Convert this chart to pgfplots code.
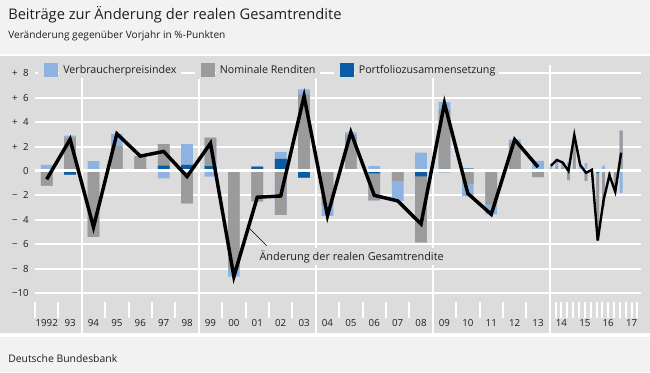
\documentclass[border=0pt]{standalone}
\usepackage{fontspec}
\setmainfont{Open Sans}
\usepackage{pgfplots}
\usepackage{pgfplotstable}
\pgfplotsset{compat=1.18}

\definecolor{outerbg}{HTML}{F2F2F2}
\definecolor{panelbg}{HTML}{DCDCDC}
\definecolor{cpiblue}{HTML}{8DB3E2}
\definecolor{nomgray}{HTML}{9B9B9B}
\definecolor{portblue}{HTML}{0A5CA6}
\definecolor{txt}{HTML}{1E1E1E}

% annual contributions (percentage points)
\pgfplotstableread{
x  cpi    nom    port   tot
0   0.50  -1.20   0.00  -0.68
1   0.20   2.70  -0.30   2.60
2   0.80  -5.40   0.00  -4.60
3   1.00   2.05   0.00   3.05
4   0.00   1.22   0.00   1.22
5  -0.60   1.75   0.45   1.60
6   1.70  -2.65   0.50  -0.45
7  -0.47   2.34   0.40   2.27
8  -0.65  -8.00   0.00  -8.65
9   0.00  -2.50   0.35  -2.15
10  0.55  -3.60   1.00  -2.05
11  0.40   6.28  -0.55   6.13
12 -0.87  -2.80   0.00  -3.67
13  0.22   2.95   0.00   3.17
14  0.40  -2.20  -0.20  -2.00
15 -1.65  -0.80   0.00  -2.45
16  1.50  -5.40  -0.45  -4.35
17  0.60   5.05  -0.10   5.55
18 -1.00  -1.05   0.20  -1.85
19 -0.80  -2.75   0.00  -3.55
20  0.22   2.35   0.00   2.57
21  0.82  -0.50   0.00   0.32
}\annual

% quarterly contributions 2014 Q1 - 2017 Q1
\pgfplotstableread{
x      cpi    nom    port   tot
21.55  0.40   0.05   0.00   0.43
21.80  0.50   0.40   0.00   0.90
22.05  0.40   0.30   0.00   0.70
22.30  0.70  -0.75   0.05   0.00
22.55  0.40   2.55   0.00   2.95
22.80  0.60  -0.10   0.00   0.50
23.05  0.65  -0.80   0.00  -0.15
23.30  0.10   0.00   0.00   0.10
23.55  0.00  -5.55  -0.15  -5.70
23.80  0.45  -2.85   0.00  -2.40
24.05  0.10  -0.45   0.00  -0.35
24.30 -0.20  -1.50   0.00  -1.70
24.55 -1.80   3.30   0.00   1.50
}\quarterly

\begin{document}
\begin{tikzpicture}[x=0.75pt,y=0.75pt]
% backgrounds
\fill[outerbg] (0,0) rectangle (650,372);
\fill[white] (0,315) rectangle (650,318);
\fill[panelbg] (0,39) rectangle (650,316);
\fill[white] (0,35.5) rectangle (650,39);
\node[anchor=base west, inner sep=0pt, text=txt, font=\fontsize{11}{13}\selectfont] at (8,352) {Beiträge zur Änderung der realen Gesamtrendite};
\node[anchor=base west, inner sep=0pt, text=txt, font=\fontsize{7.6}{9}\selectfont] at (8,333) {Veränderung gegenüber Vorjahr in \%-Punkten};
\node[anchor=base west, inner sep=0pt, text=txt, font=\fontsize{7.8}{9}\selectfont] at (8,10) {Deutsche Bundesbank};

\begin{axis}[
  at={(26.25pt,40.5pt)}, anchor=south west,
  scale only axis, width=454.5pt, height=189.86pt,
  xmin=-0.5, xmax=25.4, ymin=-12.05, ymax=8.7,
  axis line style={draw=none},
  clip=false,
  xtick={1.5,6.5,11.5,16.5,21.5}, xticklabels={},
  minor xtick={-0.5,0.5,2.5,3.5,4.5,5.5,7.5,8.5,9.5,10.5,12.5,13.5,14.5,15.5,17.5,18.5,19.5,20.5,21.75,22,22.25,22.5,22.75,23,23.25,23.5,23.75,24,24.25,24.5,24.75,25,25.25},
  ytick={-10,-8,...,8},
  yticklabels={−10,−\hphantom{0}8,−\hphantom{0}6,−\hphantom{0}4,−\hphantom{0}2,0,+\hphantom{0}2,+\hphantom{0}4,+\hphantom{0}6,+\hphantom{0}8},
  xmajorgrids, ymajorgrids,
  major grid style={white, line width=1.5pt},
  tick align=inside,
  xtick pos=bottom, ytick pos=left,
  major tick length=12pt, minor tick length=12pt,
  xtick style={white, line width=1.5pt},
  ytick style={draw=none},
  tick label style={font=\fontsize{7.3}{8}\selectfont, text=txt},
  yticklabel style={anchor=east, inner sep=0pt, xshift=-4.5pt},
  xticklabel style={anchor=north, inner sep=0pt, yshift=-0.9pt},
  extra x ticks={0,1,...,21,22,23,24,25},
  extra x tick labels={1992,93,94,95,96,97,98,99,00,01,02,03,04,05,06,07,08,09,10,11,12,13,14,15,16,17},
  extra x tick style={xmajorgrids=false, tick style={draw=none}},
  legend columns=3,
  legend image code/.code={%
    \fill[panelbg] (-4.5pt,-6.5pt) rectangle (10.5pt,6.5pt);
    \path[#1] (0pt,-5.25pt) rectangle (10.5pt,5.25pt);},
  legend style={draw=none, fill=none, inner sep=0pt, outer sep=0pt,
    at={(axis cs:-0.5,8.24)}, anchor=west, xshift=2.25pt,
    font=\fontsize{8}{9}\selectfont, text=txt,
    nodes={fill=panelbg, inner xsep=3pt, inner ysep=2pt},
    /tikz/every even column/.append style={column sep=10.5pt},
    /tikz/every odd column/.append style={column sep=1pt}},
]
\addlegendimage{fill=cpiblue, draw=none}
\addlegendentry{Verbraucherpreisindex}
\addlegendimage{fill=nomgray, draw=none}
\addlegendentry{Nominale Renditen}
\addlegendimage{fill=portblue, draw=none}
\addlegendentry{Portfoliozusammensetzung}

% 5-year separator lines continue through the label strip
\foreach \g in {1.5,6.5,11.5,16.5,21.5}{
  \edef\temp{\noexpand\draw[white, line width=1.5pt] (axis cs:\g,-12.05) -- ++(0pt,-11.5pt);}
  \temp
}

% annual bars: positive side (outer first)
\addplot[ybar, bar width=0.5, bar shift=0pt, fill=cpiblue, draw=none, forget plot]
  table[x=x, y expr={max(\thisrow{port},0)+max(\thisrow{nom},0)+max(\thisrow{cpi},0)}]{\annual};
\addplot[ybar, bar width=0.5, bar shift=0pt, fill=nomgray, draw=none, forget plot]
  table[x=x, y expr={max(\thisrow{port},0)+max(\thisrow{nom},0)}]{\annual};
\addplot[ybar, bar width=0.5, bar shift=0pt, fill=portblue, draw=none, forget plot]
  table[x=x, y expr={max(\thisrow{port},0)}]{\annual};
% annual bars: negative side
\addplot[ybar, bar width=0.5, bar shift=0pt, fill=cpiblue, draw=none, forget plot]
  table[x=x, y expr={min(\thisrow{port},0)+min(\thisrow{nom},0)+min(\thisrow{cpi},0)}]{\annual};
\addplot[ybar, bar width=0.5, bar shift=0pt, fill=nomgray, draw=none, forget plot]
  table[x=x, y expr={min(\thisrow{port},0)+min(\thisrow{nom},0)}]{\annual};
\addplot[ybar, bar width=0.5, bar shift=0pt, fill=portblue, draw=none, forget plot]
  table[x=x, y expr={min(\thisrow{port},0)}]{\annual};

% quarterly bars
\addplot[ybar, bar width=0.12, bar shift=0pt, fill=cpiblue, draw=none, forget plot]
  table[x=x, y expr={max(\thisrow{port},0)+max(\thisrow{nom},0)+max(\thisrow{cpi},0)}]{\quarterly};
\addplot[ybar, bar width=0.12, bar shift=0pt, fill=nomgray, draw=none, forget plot]
  table[x=x, y expr={max(\thisrow{port},0)+max(\thisrow{nom},0)}]{\quarterly};
\addplot[ybar, bar width=0.12, bar shift=0pt, fill=portblue, draw=none, forget plot]
  table[x=x, y expr={max(\thisrow{port},0)}]{\quarterly};
\addplot[ybar, bar width=0.12, bar shift=0pt, fill=cpiblue, draw=none, forget plot]
  table[x=x, y expr={min(\thisrow{port},0)+min(\thisrow{nom},0)+min(\thisrow{cpi},0)}]{\quarterly};
\addplot[ybar, bar width=0.12, bar shift=0pt, fill=nomgray, draw=none, forget plot]
  table[x=x, y expr={min(\thisrow{port},0)+min(\thisrow{nom},0)}]{\quarterly};
\addplot[ybar, bar width=0.12, bar shift=0pt, fill=portblue, draw=none, forget plot]
  table[x=x, y expr={min(\thisrow{port},0)}]{\quarterly};

% zero line on top of bars
\addplot[white, line width=2.25pt, forget plot] coordinates {(-0.5,0) (25.4,0)};

% total real return
\addplot[black, line width=2.6pt, line join=miter, miter limit=6, forget plot]
  table[x=x, y=tot]{\annual};
\addplot[black, line width=1.8pt, line join=miter, miter limit=6, forget plot]
  table[x=x, y=tot]{\quarterly};

% annotation
\draw[black, line width=0.5pt] (axis cs:8.66,-4.7) -- (axis cs:9.40,-6.12);
\node[anchor=west, fill=panelbg, inner xsep=1.5pt, inner ysep=2pt, text=txt, font=\fontsize{8.2}{9}\selectfont]
  at (axis cs:9.0,-7.02) {Änderung der realen Gesamtrendite};
\end{axis}
\pgfresetboundingbox
\path (0,0) rectangle (650,372);
\end{tikzpicture}
\end{document}
